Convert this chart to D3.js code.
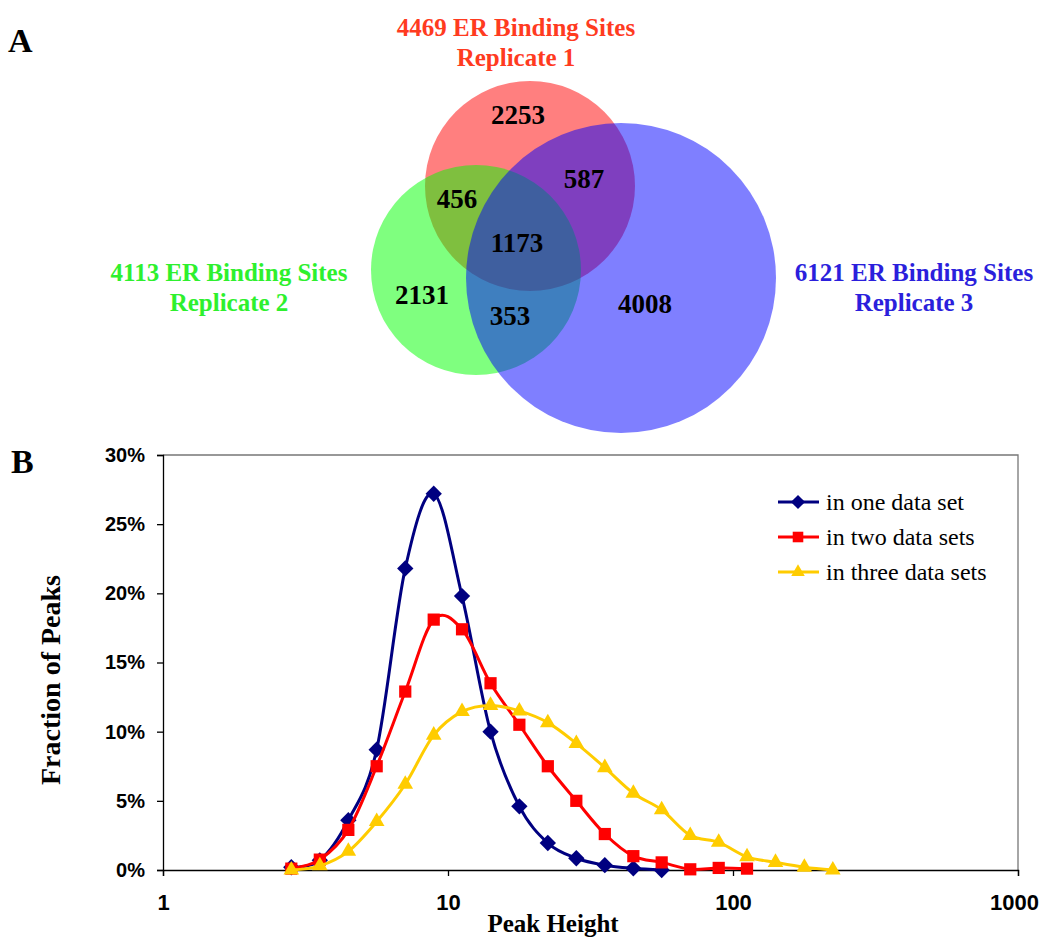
<!DOCTYPE html>
<html>
<head>
<meta charset="utf-8">
<script src="https://cdn.jsdelivr.net/npm/d3@7"></script>
<style>
  body { margin: 0; background: #fff; }
  svg { display: block; font-family: "Liberation Serif", "Times New Roman", serif; }
  .axis path, .axis line { stroke: #000; stroke-width: 1.3; }
  .axis text { font-weight: bold; fill: #000; }
</style>
</head>
<body>
<div id="chart"></div>
<script>
// ---- Venn data (panel A) ----
const setNames = ["Replicate 1", "Replicate 2", "Replicate 3"];
const setTotals = [4469, 4113, 6121];
const regionLabels = ["1", "2", "3", "1&2", "1&3", "2&3", "1&2&3"];
const regionCounts = [2253, 2131, 4008, 456, 587, 353, 1173];

// ---- Peak height distribution (panel B) ----
const peakHeight = [2.82, 3.55, 4.47, 5.62, 7.08, 8.91, 11.2, 14.1, 17.8, 22.4,
                    28.2, 35.5, 44.7, 56.2, 70.8, 89.1, 112, 141, 178, 224];
const inOne   = [0.2, 0.7, 3.6, 8.7, 21.8, 27.2, 19.8, 10.0, 4.6, 1.95, 0.85, 0.35, 0.12, 0.0];
const inTwo   = [0.1, 0.75, 2.9, 7.5, 12.9, 18.1, 17.4, 13.5, 10.5, 7.5, 5.0, 2.6, 1.0, 0.55, 0.05, 0.15, 0.1];
const inThree = [0.0, 0.3, 1.35, 3.5, 6.2, 9.75, 11.45, 11.9, 11.5, 10.65, 9.15, 7.4, 5.55, 4.35, 2.5, 2.0, 0.95, 0.55, 0.2, 0.0];
const seriesNames = ["in one data set", "in two data sets", "in three data sets"];
const yTicks = [0, 5, 10, 15, 20, 25, 30];
const xTicks = [1, 10, 100, 1000];

const W = 1041, H = 937;
const svg = d3.select("#chart").append("svg")
    .attr("width", W)
    .attr("height", H);

// ================= Panel A =================
// layout of the three (non proportional) circles
const venn = [
    {cx: 530, cy: 186, r: 105, fill: "#ff0000", text: "#ff3b1f", lx: 516, ly: 27},
    {cx: 476, cy: 270, r: 105, fill: "#00ff00", text: "#2ef02e", lx: 229, ly: 272},
    {cx: 621, cy: 278, r: 155, fill: "#0000ff", text: "#2b1fdc", lx: 914, ly: 272}
];
const regionPos = {
    "1": [518, 115], "2": [422, 295], "3": [645, 304],
    "1&2": [457, 199], "1&3": [584, 179], "2&3": [510, 316], "1&2&3": [517, 243]
};

svg.append("text")
    .attr("x", 8).attr("y", 52)
    .attr("font-size", 34).attr("font-weight", "bold")
    .text("A");

svg.append("g").selectAll("circle")
    .data(venn)
    .join("circle")
    .attr("cx", d => d.cx)
    .attr("cy", d => d.cy)
    .attr("r", d => d.r)
    .attr("fill", d => d.fill)
    .attr("fill-opacity", 0.5);

svg.append("g").selectAll("text")
    .data(regionLabels)
    .join("text")
    .attr("x", d => regionPos[d][0])
    .attr("y", d => regionPos[d][1])
    .attr("dy", "0.35em")
    .attr("text-anchor", "middle")
    .attr("font-size", 27)
    .attr("font-weight", "bold")
    .text((d, i) => regionCounts[i]);

venn.forEach((v, i) => {
    const t = svg.append("text")
        .attr("text-anchor", "middle")
        .attr("font-size", 25)
        .attr("font-weight", "bold")
        .attr("fill", v.text);
    t.append("tspan").attr("x", v.lx).attr("y", v.ly).attr("dy", "0.35em")
        .text(setTotals[i] + " ER Binding Sites");
    t.append("tspan").attr("x", v.lx).attr("y", v.ly + 30).attr("dy", "0.35em")
        .text(setNames[i]);
});

// ================= Panel B =================
const x = d3.scaleLog().domain([1, 1000]).range([163, 1018]);
const y = d3.scaleLinear().domain([0, 30]).range([870, 455]);

svg.append("text")
    .attr("x", 11).attr("y", 473)
    .attr("font-size", 34).attr("font-weight", "bold")
    .text("B");

// plot frame (top / right)
svg.append("path")
    .attr("d", `M${x(1)},${y(30)}H${x(1000)}V${y(0)}`)
    .attr("fill", "none")
    .attr("stroke", "#777")
    .attr("stroke-width", 1.3);

svg.append("g")
    .attr("class", "axis")
    .attr("transform", `translate(${x(1)},0)`)
    .call(d3.axisLeft(y).tickValues(yTicks).tickSize(6).tickPadding(12)
        .tickFormat(d => d + "%"))
    .call(g => g.selectAll("text").attr("font-size", 20));

svg.append("g")
    .attr("class", "axis")
    .attr("transform", `translate(0,${y(0)})`)
    .call(d3.axisBottom(x).tickValues(xTicks).tickSize(6).tickPadding(18)
        .tickFormat(d3.format("d")))
    .call(g => g.selectAll("text").attr("font-size", 22))
    .call(g => g.selectAll(".tick:last-of-type text").attr("dx", -4));

svg.selectAll(".axis .domain").attr("stroke-width", 1.5);

svg.append("text")
    .attr("x", 553).attr("y", 932)
    .attr("text-anchor", "middle")
    .attr("font-size", 25).attr("font-weight", "bold")
    .text("Peak Height");

svg.append("text")
    .attr("transform", "translate(60,680) rotate(-90)")
    .attr("text-anchor", "middle")
    .attr("font-size", 28).attr("font-weight", "bold")
    .text("Fraction of Peaks");

const series = [
    {name: seriesNames[0], values: inOne,   color: "#000080", symbol: d3.symbolDiamond2, size: 170},
    {name: seriesNames[1], values: inTwo,   color: "#ff0000", symbol: d3.symbolSquare2,  size: 190},
    {name: seriesNames[2], values: inThree, color: "#ffcc00", symbol: d3.symbolTriangle2, size: 175}
];

const line = d3.line()
    .x(d => x(d[0]))
    .y(d => y(d[1]))
    .curve(d3.curveCardinal.tension(0));

series.forEach(s => {
    const pts = s.values.map((v, i) => [peakHeight[i], v]);
    const sym = d3.symbol().type(s.symbol).size(s.size);
    svg.append("path")
        .datum(pts)
        .attr("fill", "none")
        .attr("stroke", s.color)
        .attr("stroke-width", 3)
        .attr("d", line);
    svg.append("g").selectAll("path")
        .data(pts)
        .join("path")
        .attr("transform", d => `translate(${x(d[0])},${y(d[1])})`)
        .attr("d", sym)
        .attr("fill", s.color);
});

// legend
const legend = svg.append("g").attr("transform", "translate(778,502)");
series.forEach((s, i) => {
    const g = legend.append("g").attr("transform", `translate(0,${i * 35})`);
    g.append("line")
        .attr("x1", 0).attr("x2", 41)
        .attr("stroke", s.color).attr("stroke-width", 3);
    g.append("path")
        .attr("transform", "translate(20,0)")
        .attr("d", d3.symbol().type(s.symbol).size(s.size * 0.75)())
        .attr("fill", s.color);
    g.append("text")
        .attr("x", 48).attr("dy", "0.33em")
        .attr("font-size", 24)
        .text(s.name);
});
</script>
</body>
</html>
